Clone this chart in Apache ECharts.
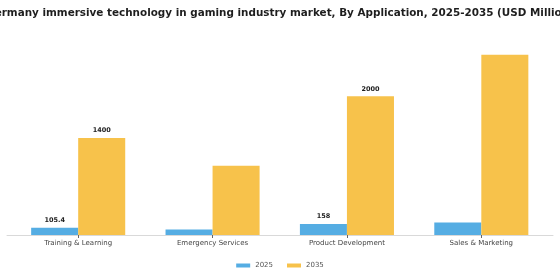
<!DOCTYPE html>
<html>
<head>
<meta charset="utf-8">
<script src="https://cdn.jsdelivr.net/npm/echarts@6/dist/echarts.min.js"></script>
<style>
  html, body { margin: 0; padding: 0; background: #ffffff; }
  #chart { width: 560px; height: 280px; }
</style>
</head>
<body>
<div id="chart"></div>
<script>
// Market size by application, USD million
const categories = ['Training & Learning', 'Emergency Services', 'Product Development', 'Sales & Marketing'];
const values2025 = [105.4, 80, 158, 180];
const values2035 = [1400, 1000, 2000, 2600];
// Only these bars carry a value label
const labelled = ['Training & Learning', 'Product Development'];

const FONT = 'DejaVu Sans';

function withLabels(values) {
  return values.map((v, i) => ({
    value: v,
    label: { show: labelled.indexOf(categories[i]) !== -1 }
  }));
}

const chart = echarts.init(document.getElementById('chart'), null, { renderer: 'canvas' });

chart.setOption({
  backgroundColor: '#ffffff',
  animation: false,
  title: {
    text: 'Germany immersive technology in gaming industry market, By Application, 2025-2035 (USD Million)',
    left: 'center',
    top: 3,
    textStyle: { fontFamily: FONT, fontSize: 10.4, fontWeight: 'bold', color: '#1e1e1e' }
  },
  legend: {
    bottom: 6,
    left: 'center',
    icon: 'rect',
    itemWidth: 14,
    itemHeight: 4,
    itemGap: 14,
    textStyle: { fontFamily: FONT, fontSize: 7, color: '#555555' },
    data: ['2025', '2035']
  },
  grid: [
    { left: 11, right: 11.5, top: 27, bottom: 45, containLabel: false },
    { left: 7, right: 7, top: 27, bottom: 45, containLabel: false }
  ],
  xAxis: [
    {
      type: 'category',
      gridIndex: 0,
      data: categories,
      axisLine: { show: false },
      axisTick: { show: true, alignWithLabel: true, length: 3, lineStyle: { color: '#666666' } },
      axisLabel: { fontFamily: FONT, fontSize: 7, color: '#444444', margin: 5, interval: 0 }
    },
    {
      // full-width baseline
      type: 'value',
      gridIndex: 1,
      min: 0,
      max: 1,
      axisLine: { show: true, lineStyle: { color: '#d9d9d9', width: 1 } },
      axisTick: { show: false },
      axisLabel: { show: false },
      splitLine: { show: false }
    }
  ],
  yAxis: [
    { type: 'value', gridIndex: 0, min: 0, max: 3000, show: false, splitLine: { show: false } },
    { type: 'value', gridIndex: 1, min: 0, max: 1, show: false, splitLine: { show: false } }
  ],
  series: [
    {
      name: '2025',
      type: 'bar',
      xAxisIndex: 0,
      yAxisIndex: 0,
      data: withLabels(values2025),
      barGap: '0%',
      barCategoryGap: '30%',
      itemStyle: { color: '#55ade3' },
      label: {
        position: 'top',
        distance: 4,
        fontFamily: FONT,
        fontSize: 6.5,
        fontWeight: 'bold',
        color: '#222222'
      }
    },
    {
      name: '2035',
      type: 'bar',
      xAxisIndex: 0,
      yAxisIndex: 0,
      data: withLabels(values2035),
      barGap: '0%',
      barCategoryGap: '30%',
      itemStyle: { color: '#f7c24b' },
      label: {
        position: 'top',
        distance: 4,
        fontFamily: FONT,
        fontSize: 6.5,
        fontWeight: 'bold',
        color: '#222222'
      }
    }
  ]
});
</script>
</body>
</html>
